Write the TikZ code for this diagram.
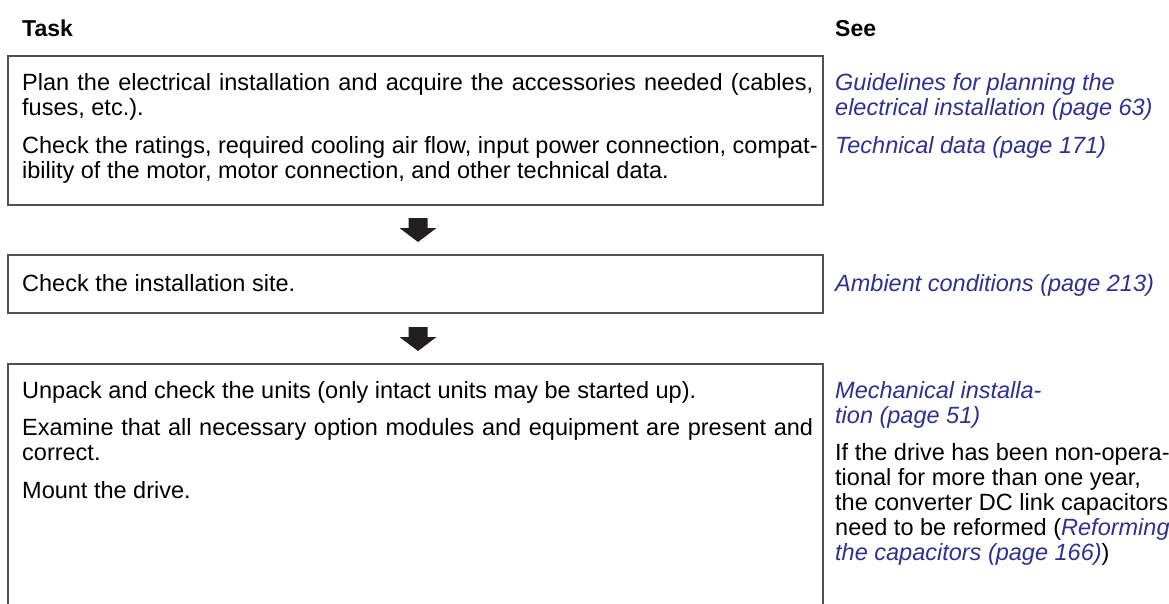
\documentclass[tikz,border=0pt]{standalone}
\usepackage{fontspec}
\usetikzlibrary{calc}
\setmainfont{Liberation Sans}
\definecolor{linkblue}{RGB}{46,49,146}
\definecolor{boxgray}{RGB}{80,80,80}
\definecolor{arrowblack}{RGB}{35,31,32}
\newcommand{\bodyfont}{\fontsize{23.5}{25}\selectfont}
\newcommand{\lnk}[1]{\textcolor{linkblue}{\itshape #1}}
\newcommand{\jline}[1]{\makebox[791pt][s]{#1}}
\begin{document}
\begin{tikzpicture}[x=1pt,y=-1pt,
  txt/.style={anchor=base west,inner sep=0pt,font=\bodyfont},
  lk/.style={txt,text=linkblue,font=\bodyfont\itshape},
  hdr/.style={txt,font=\fontsize{23}{25}\selectfont\bfseries},
  taskbox/.style={draw=boxgray,line width=1.3pt},
  downarrow/.style={fill=arrowblack}]
\useasboundingbox (0,0) rectangle (1169,603);
% headers
\node[hdr] (task) at (22,36) {Task};
\node[hdr] (see) at (835,36) {See};
% boxes
\draw[taskbox] (8,56) rectangle (823,205);
\draw[taskbox] (8,255) rectangle (823,313);
\draw[taskbox] (8,604) -- (8,364) -- (823,364) -- (823,604);
% arrows
\coordinate (a1) at (418,218);
\coordinate (a2) at (418,327);
\foreach \c in {a1,a2}{
  \fill[downarrow] ($(\c)+(-9.5,0)$) -- ($(\c)+(9.5,0)$) -- ($(\c)+(9.5,10)$) -- ($(\c)+(18.5,10)$)
    -- ($(\c)+(0,24)$) -- ($(\c)+(-18.5,10)$) -- ($(\c)+(-9.5,10)$) -- cycle;
}
% box 1
\node[txt] (t1a) at (22,90) {\jline{Plan the electrical installation and acquire the accessories needed (cables,}};
\node[txt] (t1b) at (22,115) {fuses, etc.).};
\node[txt] (t1c) at (22,153) {Check the ratings, required cooling air flow, input power connection, compat-};
\node[txt] (t1d) at (22,178) {ibility of the motor, motor connection, and other technical data.};
\node[lk] (s1a) at (835,90) {Guidelines for planning the};
\node[lk] (s1b) at (835,115) {electrical installation (page 63)};
\node[lk] (s1c) at (835,153) {Technical data (page 171)};
% box 2
\node[txt] (t2a) at (22,291) {Check the installation site.};
\node[lk] (s2a) at (835,291) {Ambient conditions (page 213)};
% box 3
\node[txt] (t3a) at (22,398) {Unpack and check the units (only intact units may be started up).};
\node[txt] (t3b) at (22,435) {\jline{Examine that all necessary option modules and equipment are present and}};
\node[txt] (t3c) at (22,460) {correct.};
\node[txt] (t3d) at (22,498) {Mount the drive.};
\node[lk] (s3a) at (835,398) {Mechanical installa-};
\node[lk] (s3b) at (835,423) {tion (page 51)};
\node[txt] (s3c) at (835,460) {If the drive has been non-opera-};
\node[txt] (s3d) at (835,485) {tional for more than one year,};
\node[txt] (s3e) at (835,510) {the converter DC link capacitors};
\node[txt] (s3f) at (835,535) {need to be reformed (\lnk{Reforming}};
\node[txt] (s3g) at (835,560) {\lnk{the capacitors (page 166)})};
\end{tikzpicture}
\end{document}
